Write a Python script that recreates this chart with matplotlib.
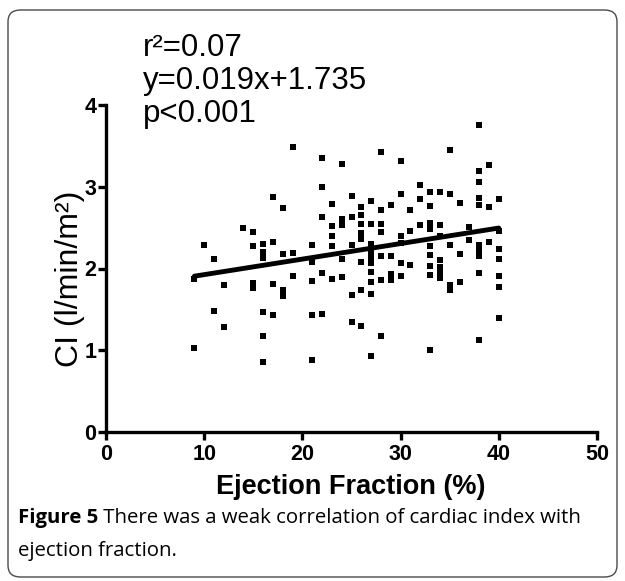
import matplotlib
matplotlib.use("Agg")
import matplotlib.pyplot as plt
from matplotlib.patches import FancyBboxPatch

# Ejection fraction (%) and cardiac index (l/min/m^2)
ef = [9, 9, 10, 11, 11, 12, 12, 14,
      15, 15, 15, 15,
      16, 16, 16, 16, 16, 16,
      17, 17, 17, 17,
      18, 18, 18, 18,
      19, 19, 19,
      21, 21, 21, 21, 21,
      22, 22, 22, 22, 22,
      23, 23, 23, 23, 23,
      24, 24, 24, 24, 24,
      25, 25, 25, 25, 25,
      26, 26, 26, 26, 26, 26, 26, 26,
      27, 27, 27, 27, 27, 27, 27, 27, 27, 27,
      28, 28, 28, 28, 28, 28, 28,
      29, 29, 29, 29,
      30, 30, 30, 30, 30, 30,
      31, 31, 31,
      32, 32, 32,
      33, 33, 33, 33, 33, 33, 33, 33, 33,
      34, 34, 34, 34, 34, 34, 34,
      35, 35, 35, 35, 35,
      36, 36, 36,
      37, 37,
      38, 38, 38, 38, 38, 38, 38, 38, 38, 38,
      39, 39, 39,
      40, 40, 40, 40, 40, 40, 40]
ci = [1.87, 1.03, 2.29, 2.12, 1.48, 1.80, 1.28, 2.50,
      2.45, 2.27, 1.82, 1.76,
      2.30, 2.20, 2.13, 1.47, 1.18, 0.86,
      2.87, 2.32, 1.81, 1.43,
      2.74, 2.18, 1.74, 1.66,
      3.49, 2.19, 1.91,
      2.29, 2.08, 1.85, 1.43, 0.88,
      3.35, 3.00, 2.63, 1.94, 1.44,
      2.79, 2.52, 2.40, 2.28, 1.87,
      3.28, 2.61, 2.53, 2.12, 1.90,
      2.89, 2.63, 2.29, 1.67, 1.35,
      2.75, 2.65, 2.55, 2.44, 2.36, 2.08, 1.74, 1.30,
      2.83, 2.55, 2.30, 2.22, 2.14, 2.07, 1.96, 1.83, 1.69, 0.93,
      3.42, 2.71, 2.54, 2.45, 2.15, 1.86, 1.17,
      2.78, 2.15, 1.93, 1.86,
      3.31, 2.91, 2.40, 2.31, 2.07, 1.91,
      2.72, 2.46, 2.04,
      3.02, 2.85, 2.53,
      2.93, 2.76, 2.56, 2.48, 2.27, 2.17, 2.03, 1.92, 1.00,
      2.94, 2.53, 2.40, 2.11, 2.02, 1.95, 1.88,
      3.45, 2.91, 2.29, 1.80, 1.74,
      2.80, 2.18, 1.84,
      2.51, 2.35,
      3.75, 3.19, 3.06, 2.86, 2.78, 2.29, 2.22, 2.15, 1.94, 1.12,
      3.27, 2.75, 2.32,
      2.85, 2.46, 2.24, 2.12, 1.91, 1.77, 1.39]

slope = 0.019
intercept = 1.735
fit_x = [9, 40]
fit_y = [intercept + slope * v for v in fit_x]

x_ticks = [0, 10, 20, 30, 40, 50]
y_ticks = [0, 1, 2, 3, 4]
stats_lines = ["r\u00b2=0.07", "y=0.019x+1.735", "p<0.001"]
x_label = "Ejection Fraction (%)"
y_label = "CI (l/min/m\u00b2)"
caption_bold = "Figure 5"
caption_line1 = " There was a weak correlation of cardiac index with"
caption_line2 = "ejection fraction."

tick_font = dict(family="Liberation Sans", weight="bold", size=15.5)

W, H = 625, 581
fig = plt.figure(figsize=(W / 100, H / 100), dpi=100)
fig.patch.set_facecolor("white")

# rounded frame
frame = FancyBboxPatch((8 / W, 4 / H), (617 - 8) / W, (571 - 4) / H,
                       boxstyle="round,pad=0,rounding_size=0.02",
                       transform=fig.transFigure, fill=False,
                       edgecolor="#4a4a4a", linewidth=1.0)
fig.patches.append(frame)

ax = fig.add_axes([106 / W, 1 - 432 / H, (597 - 106) / W, (432 - 105) / H])
ax.set_xlim(0, 50)
ax.set_ylim(0, 4)
ax.scatter(ef, ci, marker="s", s=23, color="black", linewidths=0, clip_on=False, zorder=3)
ax.plot(fit_x, fit_y, color="black", linewidth=3.5, solid_capstyle="round", zorder=4)

for side in ["top", "right"]:
    ax.spines[side].set_visible(False)
for side in ["left", "bottom"]:
    ax.spines[side].set_linewidth(2.4)
ax.set_xticks(x_ticks)
ax.set_yticks(y_ticks)
ax.tick_params(direction="out", length=6, width=2.4)
ax.tick_params(axis="x", pad=3)
ax.tick_params(axis="y", pad=1)
ax.set_xticklabels([str(t) for t in x_ticks], **tick_font)
ax.set_yticklabels([str(t) for t in y_ticks], **tick_font)

fig.text(351 / W, 1 - 487 / H, x_label, ha="center", va="center",
         family="Liberation Sans", weight="bold", size=19.5)
fig.text(70 / W, 1 - 279 / H, y_label, ha="center", va="center", rotation=90,
         family="Liberation Sans", size=23)

for i, line in enumerate(stats_lines):
    fig.text(143 / W, 1 - (56 + 33 * i) / H, line, ha="left", va="baseline",
             family="Liberation Sans", size=22.5)

cap_size = 14.7
t1 = fig.text(18 / W, 1 - 523 / H, caption_bold, ha="left", va="baseline",
              family="Open Sans", weight="bold", size=cap_size)
fig.canvas.draw()
bb = t1.get_window_extent()
fig.text(bb.x1 / W, 1 - 523 / H, caption_line1, ha="left", va="baseline",
         family="Open Sans", size=cap_size)
fig.text(18 / W, 1 - 556 / H, caption_line2, ha="left", va="baseline",
         family="Open Sans", size=cap_size)

fig.savefig("out.png", dpi=100)
